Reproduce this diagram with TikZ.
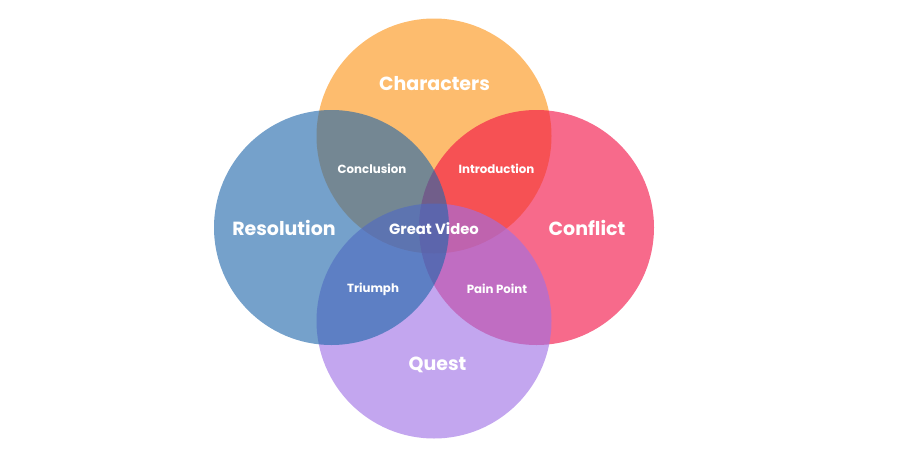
\documentclass[tikz,border=0pt]{standalone}
\usepackage{fontspec}
\setmainfont{Poppins}[BoldFont={* Bold}]
\definecolor{cOrange}{RGB}{252,147,21}
\definecolor{cPink}{RGB}{242,15,68}
\definecolor{cPurple}{RGB}{158,111,229}
\definecolor{cBlue}{RGB}{32,103,171}
\tikzset{
  ring/.style={circle, minimum size=235pt, inner sep=0pt, fill=#1, fill opacity=0.62, draw=none},
  biglabel/.style={text=white, font=\fontsize{19}{21}\selectfont\bfseries, inner sep=0pt},
  midlabel/.style={text=white, font=\fontsize{14.8}{16}\selectfont\bfseries, inner sep=0pt},
  smalllabel/.style={text=white, font=\fontsize{11.8}{13}\selectfont\bfseries, inner sep=0pt}
}
\begin{document}
\begin{tikzpicture}[x=1pt,y=-1pt]
\useasboundingbox (0,0) rectangle (900,450);
\node[ring=cOrange] (top) at (434,136) {};
\node[ring=cPink] (right) at (536.5,227.5) {};
\node[ring=cPurple] (bottom) at (434,321) {};
\node[ring=cBlue] (left) at (331.5,227.5) {};
\node[biglabel] (lchar) at (434.5,84) {Characters};
\node[biglabel] (lres) at (284,228) {Resolution};
\node[biglabel] (lcon) at (587,228) {Conflict};
\node[biglabel] (lquest) at (437.5,365) {Quest};
\node[smalllabel] (lconc) at (372,169) {Conclusion};
\node[smalllabel] (lintro) at (496.5,169) {Introduction};
\node[smalllabel] (ltri) at (373,289) {Triumph};
\node[smalllabel] (lpain) at (497,289) {Pain Point};
\node[midlabel] (lgreat) at (434,229) {Great Video};
\end{tikzpicture}
\end{document}
